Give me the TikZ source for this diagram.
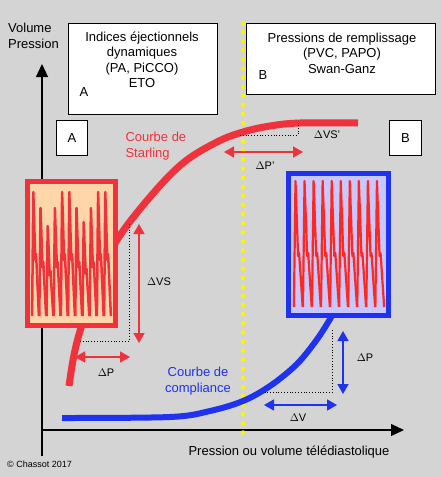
\documentclass[tikz,border=0pt]{standalone}
\usepackage{fontspec}
\setmainfont{Liberation Sans}
\usetikzlibrary{arrows.meta}
\definecolor{fond}{RGB}{212,212,212}
\definecolor{rouge}{RGB}{240,50,60}
\definecolor{bleu}{RGB}{30,50,240}
\definecolor{peche}{RGB}{255,214,170}
\definecolor{lavande}{RGB}{200,200,255}
\definecolor{jaune}{RGB}{250,245,0}
\definecolor{onde}{RGB}{255,40,30}
\tikzset{
  infobox/.style={draw,fill=white,line width=1.2pt,anchor=north west,inner sep=0pt},
  lettre/.style={font=\fontsize{13}{15}\selectfont},
  txt/.style={font=\fontsize{13}{15.5}\selectfont,align=center},
  delta/.style={font=\fontsize{11}{13}\selectfont},
  rougearrow/.style={rouge,line width=1.5pt,{Triangle[length=10pt,width=11pt]}-{Triangle[length=10pt,width=11pt]}},
  bleuarrow/.style={bleu,line width=1.5pt,{Triangle[length=10pt,width=11pt]}-{Triangle[length=10pt,width=11pt]}},
  pointille/.style={dotted,line width=0.8pt},
  axe/.style={line width=1.2pt,-{Triangle[length=13pt,width=12pt]}}
}

\begin{document}
\begin{tikzpicture}[x=1pt, y=-1pt]

    % fond
    \fill[fond] (0,0) rectangle (442,477);
    \useasboundingbox (0,0) rectangle (442,477);

    % axes
    \coordinate (origine) at (42,430);
    \coordinate (yhaut) at (42,64);
    \coordinate (xdroite) at (404,430);
    \coordinate (ybas) at (42,456);
    \draw[axe] (ybas) -- (yhaut);
    \draw[axe] (origine) -- (xdroite);
    \node[txt,align=left,anchor=north west,inner sep=0pt] (ylabel) at (8,23) {Volume\\Pression};
    \node[txt] (xlabel) at (289,452) {Pression ou volume télédiastolique};
    \node[anchor=west,inner sep=0pt,font=\fontsize{9}{11}\selectfont] (copy) at (7,464) {© Chassot 2017};

    % encadres du haut
    \node[infobox,minimum width=149pt,minimum height=91pt] (boxA) at (68,23) {};
    \node[txt] (textA) at (142,60) {Indices éjectionnels\\dynamiques\\(PA, PiCCO)\\ETO};
    \node[lettre] (lettreA) at (84,92) {A};
    \node[infobox,minimum width=189pt,minimum height=71pt] (boxB) at (246,23) {};
    \node[txt] (textB) at (342,53) {Pressions de remplissage\\(PVC, PAPO)\\Swan-Ganz};
    \node[lettre] (lettreB) at (263,75) {B};

    % petits carres
    \node[infobox,line width=0.8pt,minimum width=31pt,minimum height=35pt,lettre] (carreA) at (56,120) {A};
    \node[infobox,line width=0.8pt,minimum width=32pt,minimum height=35pt,lettre] (carreB) at (389,120) {B};

    % ligne jaune
    \coordinate (jhaut) at (243,23);
    \coordinate (jbas) at (243,433);
    \draw[jaune,line width=4.5pt,line cap=round,dash pattern=on 0pt off 9.1pt] (jhaut) -- (jbas);

    % courbe de Starling
    \draw[rouge,line width=7pt] plot[smooth,tension=0.6] coordinates {(69,386) (74,355) (82,325) (100,278) (117,240) (150,197) (183,163) (217,142) (243,132) (270,126) (300,123) (358,123)};
    \node[txt,align=left,anchor=west,text=rouge] (starling) at (122,146) {Courbe de\\Starling};

    % courbe de compliance
    \draw[bleu,line width=6pt] plot[smooth,tension=0.55] coordinates {(62,418) (170,417) (210,411) (243,401) (270,386) (297,364) (318,338) (333,314)};
    \node[txt,text=bleu] (compliance) at (198,381) {Courbe de\\compliance};

    % boite rouge
    \node[draw=rouge,fill=peche,line width=5pt,minimum width=88pt,minimum height=144pt,inner sep=0pt] (ondeA) at (71,253) {};
    \foreach \h [count=\i from 0] in {192,208,226,208,192,192,208,222,208,192,192} {
        \pgfmathsetmacro{\px}{33.3+7.2*\i}
        \draw[rouge,line width=2.5pt,line join=round] ({\px-1.2},316) -- (\px,\h) -- ({\px+2},{\h+0.55*(316-\h)}) -- ({\px+2.8},{\h+0.5*(316-\h)}) -- ({\px+5.6},316);
    }

    % boite bleue
    \node[draw=bleu,fill=lavande,line width=5pt,minimum width=100pt,minimum height=142pt,inner sep=0pt] (ondeB) at (338,244) {};
    \foreach \i in {0,...,9} {
        \pgfmathsetmacro{\px}{295.5+9.05*\i}
        \draw[onde,line width=2.2pt,line join=round] ({\px-1.6},307) -- (\px,181) -- ({\px+2.6},256) -- ({\px+3.6},253) -- ({\px+7.2},307);
    }

    % Delta VS' et Delta P'
    \coordinate (vsp1) at (240,135);
    \coordinate (vsp2) at (298,135);
    \coordinate (vsp3) at (298,123);
    \draw[pointille] (vsp1) -- (vsp2) -- (vsp3);
    \node[delta] (dvsp) at (327,135) {$\Delta$VS'};
    \coordinate (dpp1) at (224,152);
    \coordinate (dpp2) at (303,152);
    \draw[rougearrow] (dpp1) -- (dpp2);
    \node[delta] (dpplabel) at (265,166) {$\Delta$P'};

    % Delta VS et Delta P (rouge)
    \coordinate (vs1) at (129,224);
    \coordinate (vs2) at (129,341);
    \coordinate (vs3) at (80,341);
    \draw[pointille] (vs1) -- (vs2) -- (vs3);
    \coordinate (dvs1) at (139,224);
    \coordinate (dvs2) at (139,343);
    \draw[rougearrow] (dvs1) -- (dvs2);
    \node[delta] (dvslabel) at (159,282) {$\Delta$VS};
    \coordinate (dpr1) at (75,357);
    \coordinate (dpr2) at (130,357);
    \draw[rougearrow] (dpr1) -- (dpr2);
    \node[delta] (dprlabel) at (106,373) {$\Delta$P};

    % Delta P et Delta V (bleu)
    \coordinate (cv1) at (332,330);
    \coordinate (cv2) at (332,392);
    \coordinate (cv3) at (265,392);
    \draw[pointille] (cv1) -- (cv2) -- (cv3);
    \coordinate (dpb1) at (343,331);
    \coordinate (dpb2) at (343,394);
    \draw[bleuarrow] (dpb1) -- (dpb2);
    \node[delta] (dpblabel) at (365,358) {$\Delta$P};
    \coordinate (dv1) at (264,405);
    \coordinate (dv2) at (337,405);
    \draw[bleuarrow] (dv1) -- (dv2);
    \node[delta] (dvlabel) at (298,418) {$\Delta$V};

\end{tikzpicture}
\end{document}
